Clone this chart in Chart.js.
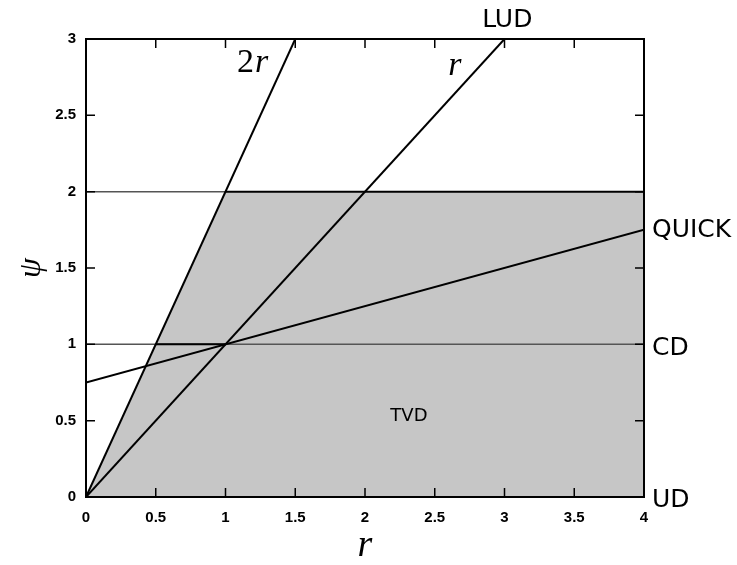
<!DOCTYPE html>
<html>
<head>
<meta charset="utf-8">
<script src="https://cdn.jsdelivr.net/npm/chart.js@4.4.1/dist/chart.umd.min.js"></script>
<style>
  html, body { margin: 0; padding: 0; background: #fff; }
  #wrap { width: 737px; height: 565px; }
</style>
</head>
<body>
<div id="wrap"><canvas id="grafico"></canvas></div>
<script>
// Datos del diagrama (r, psi)
const xTicks = [0, 0.5, 1, 1.5, 2, 2.5, 3, 3.5, 4];
const yTicks = [0, 0.5, 1, 1.5, 2, 2.5, 3];
const regionTVD = [[0, 0], [1, 2], [4, 2], [4, 0]];
const lineaDosR = [[0, 0], [1.5, 3]];
const lineaR = [[0, 0], [3, 3]];
const lineaQuick = [[0, 0.75], [4, 1.75]];
const lineaCD = [[0, 1], [4, 1]];
const linea2Fina = [[0, 2], [1, 2]];
const tramo2 = [[1, 2], [4, 2]];
const tramo1 = [[0.5, 1], [1, 1]];

const pts = arr => arr.map(p => ({ x: p[0], y: p[1] }));

const lineaNegra = data => ({
  data: pts(data),
  showLine: true,
  borderColor: '#000',
  borderWidth: 2,
  pointRadius: 0,
  fill: false,
  order: 1
});

// Etiquetas de texto, marco y ticks hacia dentro
const etiquetas = {
  id: 'etiquetas',
  afterDraw(chart) {
    const { ctx, chartArea: a, scales: { x, y } } = chart;
    ctx.save();
    ctx.strokeStyle = '#000';
    ctx.lineWidth = 2;
    ctx.strokeRect(a.left, a.top, a.right - a.left, a.bottom - a.top);
    ctx.lineWidth = 1.5;
    const tl = 9;
    ctx.beginPath();
    xTicks.forEach(v => {
      const px = x.getPixelForValue(v);
      ctx.moveTo(px, a.bottom); ctx.lineTo(px, a.bottom - tl);
      ctx.moveTo(px, a.top); ctx.lineTo(px, a.top + tl);
    });
    yTicks.forEach(v => {
      const py = y.getPixelForValue(v);
      ctx.moveTo(a.left, py); ctx.lineTo(a.left + tl, py);
      ctx.moveTo(a.right, py); ctx.lineTo(a.right - tl, py);
    });
    ctx.stroke();

    ctx.fillStyle = '#000';
    ctx.textBaseline = 'alphabetic';
    const txt = (s, vx, vy, font, align) => {
      ctx.font = font;
      ctx.textAlign = align || 'left';
      ctx.fillText(s, x.getPixelForValue(vx), y.getPixelForValue(vy));
    };
    const sans = '25px "DejaVu Sans"';
    txt('LUD', 3.02, 3.08, sans, 'center');
    txt('QUICK', 4.057, 1.70, sans);
    txt('CD', 4.057, 0.93, sans);
    txt('UD', 4.057, -0.065, sans);
    txt('TVD', 2.315, 0.50, '18px "DejaVu Sans"', 'center');
    // 2r: "2" recto, "r" cursiva
    ctx.font = '34px "Liberation Serif"';
    ctx.textAlign = 'left';
    const x0 = x.getPixelForValue(1.082), y0 = y.getPixelForValue(2.784);
    ctx.fillText('2', x0, y0);
    const w2 = ctx.measureText('2').width;
    ctx.font = 'italic 34px "Liberation Serif"';
    ctx.fillText('r', x0 + w2 + 1, y0);
    txt('r', 2.645, 2.764, 'italic 34px "Liberation Serif"', 'center');
    ctx.restore();
  }
};

const fuenteTicks = { family: 'Liberation Sans', size: 15, weight: 'bold' };

new Chart(document.getElementById('grafico'), {
  type: 'scatter',
  data: {
    datasets: [{
      data: pts(regionTVD),
      showLine: true,
      borderWidth: 0,
      borderColor: 'rgba(0,0,0,0)',
      backgroundColor: '#c6c6c6',
      pointRadius: 0,
      fill: 'origin',
      order: 3
    }, {
      data: pts(lineaCD),
      showLine: true,
      borderColor: '#555',
      borderWidth: 1.5,
      pointRadius: 0,
      fill: false,
      order: 2
    }, {
      data: pts(linea2Fina),
      showLine: true,
      borderColor: '#555',
      borderWidth: 1.5,
      pointRadius: 0,
      fill: false,
      order: 2
    },
      lineaNegra(lineaDosR),
      lineaNegra(lineaR),
      lineaNegra(lineaQuick),
      lineaNegra(tramo2),
      lineaNegra(tramo1)
    ]
  },
  options: {
    responsive: true,
    maintainAspectRatio: false,
    animation: false,
    layout: { padding: { top: 39, right: 93, left: 0, bottom: 0 } },
    plugins: { legend: { display: false }, tooltip: { enabled: false } },
    scales: {
      x: {
        type: 'linear',
        min: 0, max: 4,
        afterBuildTicks: s => { s.ticks = xTicks.map(v => ({ value: v })); },
        afterFit: s => { s.height = 565 - 497; },
        grid: { display: false, drawTicks: false },
        border: { display: false },
        ticks: { padding: 12, color: '#000', font: fuenteTicks, maxRotation: 0, callback: v => String(v) },
        title: { display: true, text: 'r', color: '#000', padding: { top: 0, bottom: 0 }, font: { family: 'Liberation Serif', size: 38, style: 'italic', lineHeight: 1 } }
      },
      y: {
        type: 'linear',
        min: 0, max: 3,
        afterBuildTicks: s => { s.ticks = yTicks.map(v => ({ value: v })); },
        afterFit: s => { s.width = 86; },
        grid: { display: false, drawTicks: false },
        border: { display: false },
        ticks: { padding: 10, color: '#000', font: fuenteTicks, callback: v => String(v) },
        title: { display: true, text: 'ψ', color: '#000', padding: { top: 12, bottom: 0 }, font: { family: 'Liberation Serif', size: 32, style: 'italic' } }
      }
    }
  },
  plugins: [etiquetas]
});
</script>
</body>
</html>
